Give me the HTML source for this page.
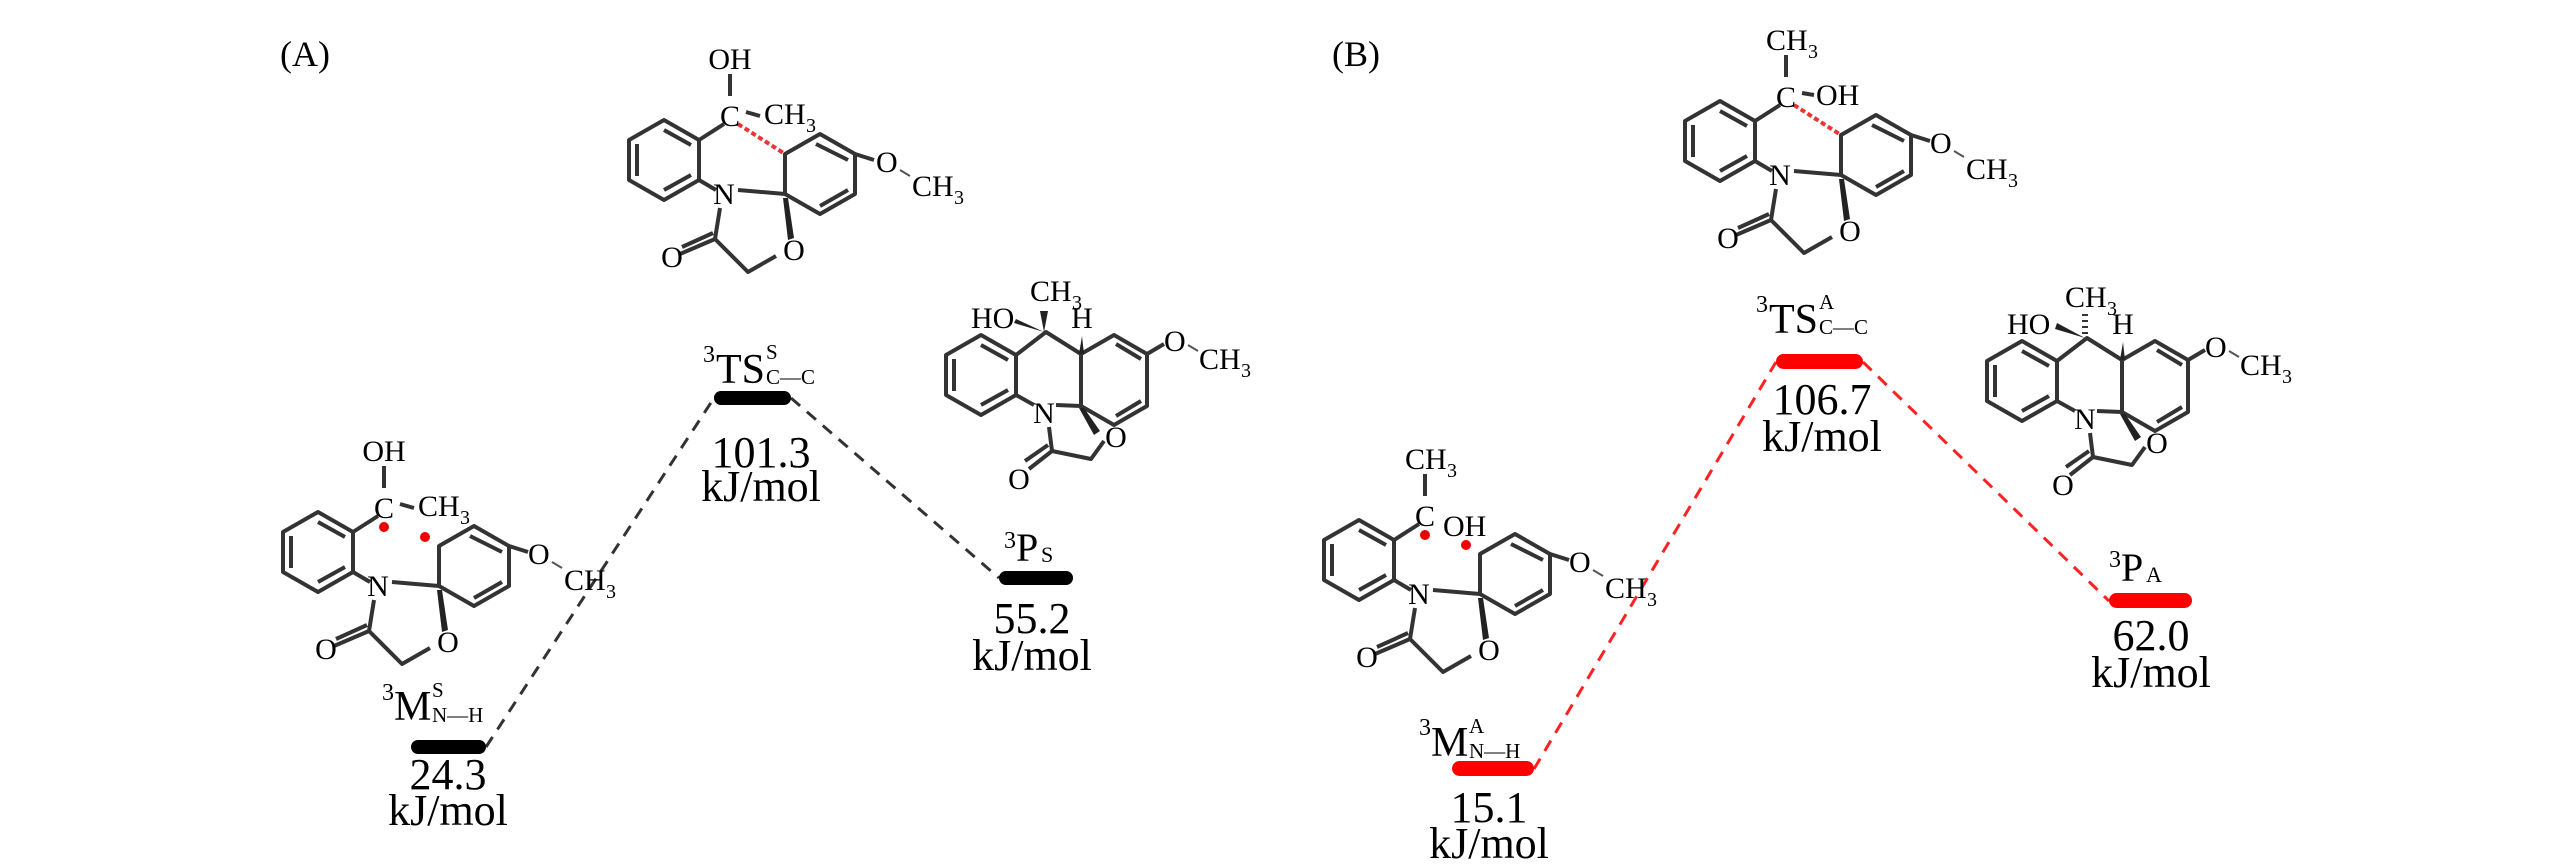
<!DOCTYPE html>
<html><head><meta charset="utf-8"><style>
html,body{margin:0;padding:0;background:#fff;}
svg{display:block;font-family:"Liberation Serif","Times New Roman",serif;}
text{font-family:"Liberation Serif","Times New Roman",serif;fill:#000;}
.b{stroke:#333;stroke-width:4;fill:none;stroke-linejoin:round;}
.at{font-size:30px;}
.sm{font-size:20px;}
</style></head><body>
<svg width="2567" height="866" viewBox="0 0 2567 866" xmlns="http://www.w3.org/2000/svg" font-family="Liberation Serif, Times New Roman, serif">
<defs>
<g id="spiro">
  <polygon class="b" points="-60,-74 -25,-54 -25,-14 -60,6 -95,-14 -95,-54"/>
  <path class="b" d="M-60,-64 L-33,-49 M-33,-19 L-60,-4 M-87,-50 L-87,-18"/>
  <path class="b" d="M-25,-14 L-8,-4 M-25,-54 L0,-70 M14,-4 L61,0"/>
  <polygon class="b" points="61,0 61,-40 96,-60 131,-40 131,0 96,20"/>
  <path class="b" d="M92,-50 L124,-34 M124,-4 L96,12 M131,-40 L150,-34"/>
  <path class="b" d="M-4,14 L-9,45 L-44,60 M-9,45 L24,78 L52,62 M-11,39 L-42,53"/>
  <polygon points="59,4 64,4 70,44 64,46" fill="#222"/>
</g>
<g id="fused">
  <polygon class="b" points="-63,-76 -28,-56 -28,-16 -63,4 -98,-16 -98,-56"/>
  <path class="b" d="M-63,-66 L-36,-51 M-36,-21 L-63,-6 M-90,-52 L-90,-20"/>
  <path class="b" d="M-28,-16 L-10,-6 M-28,-56 L2,-79 L37,-57 M12,-6 L37,-5 L37,-57"/>
  <polygon class="b" points="37,-5 37,-57 70,-76 103,-57 103,-5 70,14"/>
  <path class="b" d="M72,-67 L97,-52 M97,-10 L72,5 M103,-57 L120,-67"/>
  <path class="b" d="M5,16 L8,40 L-15,58 M8,40 L47,48 L60,30 M4,34 L-19,50"/>
  <polygon points="35,-3 40,-3 56,20 50,24" fill="#222"/>
  <polygon points="35,-57 40,-57 38,-75" fill="#222"/>
</g>
</defs>

<text x="280" y="66" font-size="36">(A)</text>
<text x="1332" y="66" font-size="36">(B)</text>

<!-- Panel A -->
<line x1="486" y1="747" x2="714" y2="398" stroke="#333" stroke-width="3" stroke-dasharray="12,9"/>
<line x1="791" y1="398" x2="999" y2="578" stroke="#333" stroke-width="3" stroke-dasharray="12,9"/>
<rect x="714" y="391" width="77" height="14" rx="7" fill="#000"/>
<rect x="411" y="740" width="75" height="14" rx="7" fill="#000"/>
<rect x="999" y="571" width="74" height="14" rx="7" fill="#000"/>

<text x="703" y="362" font-size="24">3</text>
<text x="716" y="383" font-size="42">TS</text>
<text x="766" y="359" font-size="21">S</text>
<text x="766" y="384" font-size="21">C—C</text>
<text x="761" y="467" font-size="44" text-anchor="middle">101.3</text>
<text x="761" y="501" font-size="44" text-anchor="middle">kJ/mol</text>

<text x="382" y="700" font-size="24">3</text>
<text x="394" y="720" font-size="42">M</text>
<text x="432" y="697" font-size="21">S</text>
<text x="432" y="722" font-size="21">N—H</text>
<text x="448" y="789" font-size="44" text-anchor="middle">24.3</text>
<text x="448" y="825" font-size="44" text-anchor="middle">kJ/mol</text>

<text x="1004" y="548" font-size="24">3</text>
<text x="1016" y="561" font-size="40">P</text>
<text x="1041" y="562" font-size="22">S</text>
<text x="1032" y="633" font-size="44" text-anchor="middle">55.2</text>
<text x="1032" y="670" font-size="44" text-anchor="middle">kJ/mol</text>

<g transform="translate(724,194)">
  <use href="#spiro"/>
  <line x1="6" y1="-98" x2="6" y2="-120" class="b"/>
  <line x1="22" y1="-82" x2="36" y2="-78" class="b"/>
  <line x1="14" y1="-70" x2="61" y2="-40" stroke="#e33" stroke-width="4" stroke-dasharray="5,3"/>
  <text class="at" x="6" y="-125" text-anchor="middle">OH</text>
  <text class="at" x="6" y="-68" text-anchor="middle">C</text>
  <text class="at" x="40" y="-70">CH</text><text class="sm" x="82" y="-62">3</text>
  <text class="at" x="0" y="10" text-anchor="middle">N</text>
  <text class="at" x="152" y="-22">O</text>
  <line x1="176" y1="-24" x2="186" y2="-18" stroke="#555" stroke-width="2"/>
  <text class="at" x="188" y="2">CH</text><text class="sm" x="230" y="10">3</text>
  <text class="at" x="-52" y="73" text-anchor="middle">O</text>
  <text class="at" x="70" y="66" text-anchor="middle">O</text>
</g>

<g transform="translate(378,586)">
  <use href="#spiro"/>
  <line x1="6" y1="-98" x2="6" y2="-120" class="b"/>
  <line x1="22" y1="-82" x2="36" y2="-78" class="b"/>
  <circle cx="6" cy="-59" r="5" fill="#e00"/>
  <circle cx="47" cy="-49" r="5" fill="#e00"/>
  <text class="at" x="6" y="-125" text-anchor="middle">OH</text>
  <text class="at" x="6" y="-68" text-anchor="middle">C</text>
  <text class="at" x="40" y="-70">CH</text><text class="sm" x="82" y="-62">3</text>
  <text class="at" x="0" y="10" text-anchor="middle">N</text>
  <text class="at" x="150" y="-22">O</text>
  <line x1="174" y1="-24" x2="184" y2="-18" stroke="#555" stroke-width="2"/>
  <text class="at" x="186" y="4">CH</text><text class="sm" x="228" y="12">3</text>
  <text class="at" x="-52" y="73" text-anchor="middle">O</text>
  <text class="at" x="70" y="66" text-anchor="middle">O</text>
</g>

<g transform="translate(1044,411)">
  <use href="#fused"/>
  <polygon points="0,-79 -30,-88 -28,-92" fill="#222"/>
  <polygon points="0,-79 -4,-100 4,-100" fill="#222"/>
  <text class="at" x="-73" y="-83">HO</text>
  <text class="at" x="-14" y="-110">CH</text><text class="sm" x="28" y="-102">3</text>
  <text class="at" x="38" y="-83" text-anchor="middle">H</text>
  <text class="at" x="120" y="-60">O</text>
  <line x1="144" y1="-66" x2="154" y2="-60" stroke="#555" stroke-width="2"/>
  <text class="at" x="155" y="-42">CH</text><text class="sm" x="197" y="-34">3</text>
  <text class="at" x="0" y="12" text-anchor="middle">N</text>
  <text class="at" x="-25" y="78" text-anchor="middle">O</text>
  <text class="at" x="72" y="36" text-anchor="middle">O</text>
</g>

<!-- Panel B -->
<line x1="1534" y1="769" x2="1776" y2="362" stroke="#f22" stroke-width="3" stroke-dasharray="12,9"/>
<line x1="1863" y1="362" x2="2109" y2="601" stroke="#f22" stroke-width="3" stroke-dasharray="12,9"/>
<rect x="1776" y="354" width="87" height="15" rx="7.5" fill="#f00"/>
<rect x="1452" y="761" width="82" height="15" rx="7.5" fill="#f00"/>
<rect x="2109" y="593" width="83" height="15" rx="7.5" fill="#f00"/>

<text x="1756" y="312" font-size="24">3</text>
<text x="1769" y="333" font-size="42">TS</text>
<text x="1819" y="309" font-size="21">A</text>
<text x="1819" y="334" font-size="21">C—C</text>
<text x="1822" y="414" font-size="44" text-anchor="middle">106.7</text>
<text x="1822" y="451" font-size="44" text-anchor="middle">kJ/mol</text>

<text x="1419" y="735" font-size="24">3</text>
<text x="1431" y="756" font-size="42">M</text>
<text x="1469" y="733" font-size="21">A</text>
<text x="1469" y="758" font-size="21">N—H</text>
<text x="1489" y="822" font-size="44" text-anchor="middle">15.1</text>
<text x="1489" y="858" font-size="44" text-anchor="middle">kJ/mol</text>

<text x="2109" y="567" font-size="24">3</text>
<text x="2121" y="581" font-size="40">P</text>
<text x="2146" y="582" font-size="22">A</text>
<text x="2151" y="650" font-size="44" text-anchor="middle">62.0</text>
<text x="2151" y="687" font-size="44" text-anchor="middle">kJ/mol</text>

<g transform="translate(1780,175)">
  <use href="#spiro"/>
  <line x1="6" y1="-98" x2="6" y2="-120" class="b"/>
  <line x1="22" y1="-82" x2="34" y2="-80" class="b"/>
  <line x1="14" y1="-70" x2="61" y2="-40" stroke="#e33" stroke-width="4" stroke-dasharray="5,3"/>
  <text class="at" x="-14" y="-125">CH</text><text class="sm" x="28" y="-117">3</text>
  <text class="at" x="6" y="-68" text-anchor="middle">C</text>
  <text class="at" x="36" y="-70">OH</text>
  <text class="at" x="0" y="10" text-anchor="middle">N</text>
  <text class="at" x="150" y="-22">O</text>
  <line x1="174" y1="-24" x2="184" y2="-18" stroke="#555" stroke-width="2"/>
  <text class="at" x="186" y="4">CH</text><text class="sm" x="228" y="12">3</text>
  <text class="at" x="-52" y="73" text-anchor="middle">O</text>
  <text class="at" x="70" y="66" text-anchor="middle">O</text>
</g>

<g transform="translate(1419,594)">
  <use href="#spiro"/>
  <line x1="6" y1="-98" x2="6" y2="-120" class="b"/>
  <circle cx="6" cy="-59" r="5" fill="#e00"/>
  <circle cx="47" cy="-49" r="5" fill="#e00"/>
  <text class="at" x="-14" y="-125">CH</text><text class="sm" x="28" y="-117">3</text>
  <text class="at" x="6" y="-68" text-anchor="middle">C</text>
  <text class="at" x="24" y="-58">OH</text>
  <text class="at" x="0" y="10" text-anchor="middle">N</text>
  <text class="at" x="150" y="-22">O</text>
  <line x1="174" y1="-24" x2="184" y2="-18" stroke="#555" stroke-width="2"/>
  <text class="at" x="186" y="4">CH</text><text class="sm" x="228" y="12">3</text>
  <text class="at" x="-52" y="73" text-anchor="middle">O</text>
  <text class="at" x="70" y="66" text-anchor="middle">O</text>
</g>

<g transform="translate(2085,417)">
  <use href="#fused"/>
  <polygon points="0,-79 -30,-88 -28,-94" fill="#222"/>
  <path d="M-3,-84 L3,-84 M-3,-90 L3,-90 M-3,-96 L3,-96 M-3,-102 L3,-102" stroke="#333" stroke-width="2"/>
  <text class="at" x="-78" y="-83">HO</text>
  <text class="at" x="-20" y="-110">CH</text><text class="sm" x="22" y="-102">3</text>
  <text class="at" x="38" y="-83" text-anchor="middle">H</text>
  <text class="at" x="120" y="-60">O</text>
  <line x1="144" y1="-66" x2="154" y2="-60" stroke="#555" stroke-width="2"/>
  <text class="at" x="155" y="-42">CH</text><text class="sm" x="197" y="-34">3</text>
  <text class="at" x="0" y="12" text-anchor="middle">N</text>
  <text class="at" x="-22" y="78" text-anchor="middle">O</text>
  <text class="at" x="72" y="36" text-anchor="middle">O</text>
</g>
</svg>
</body></html>
